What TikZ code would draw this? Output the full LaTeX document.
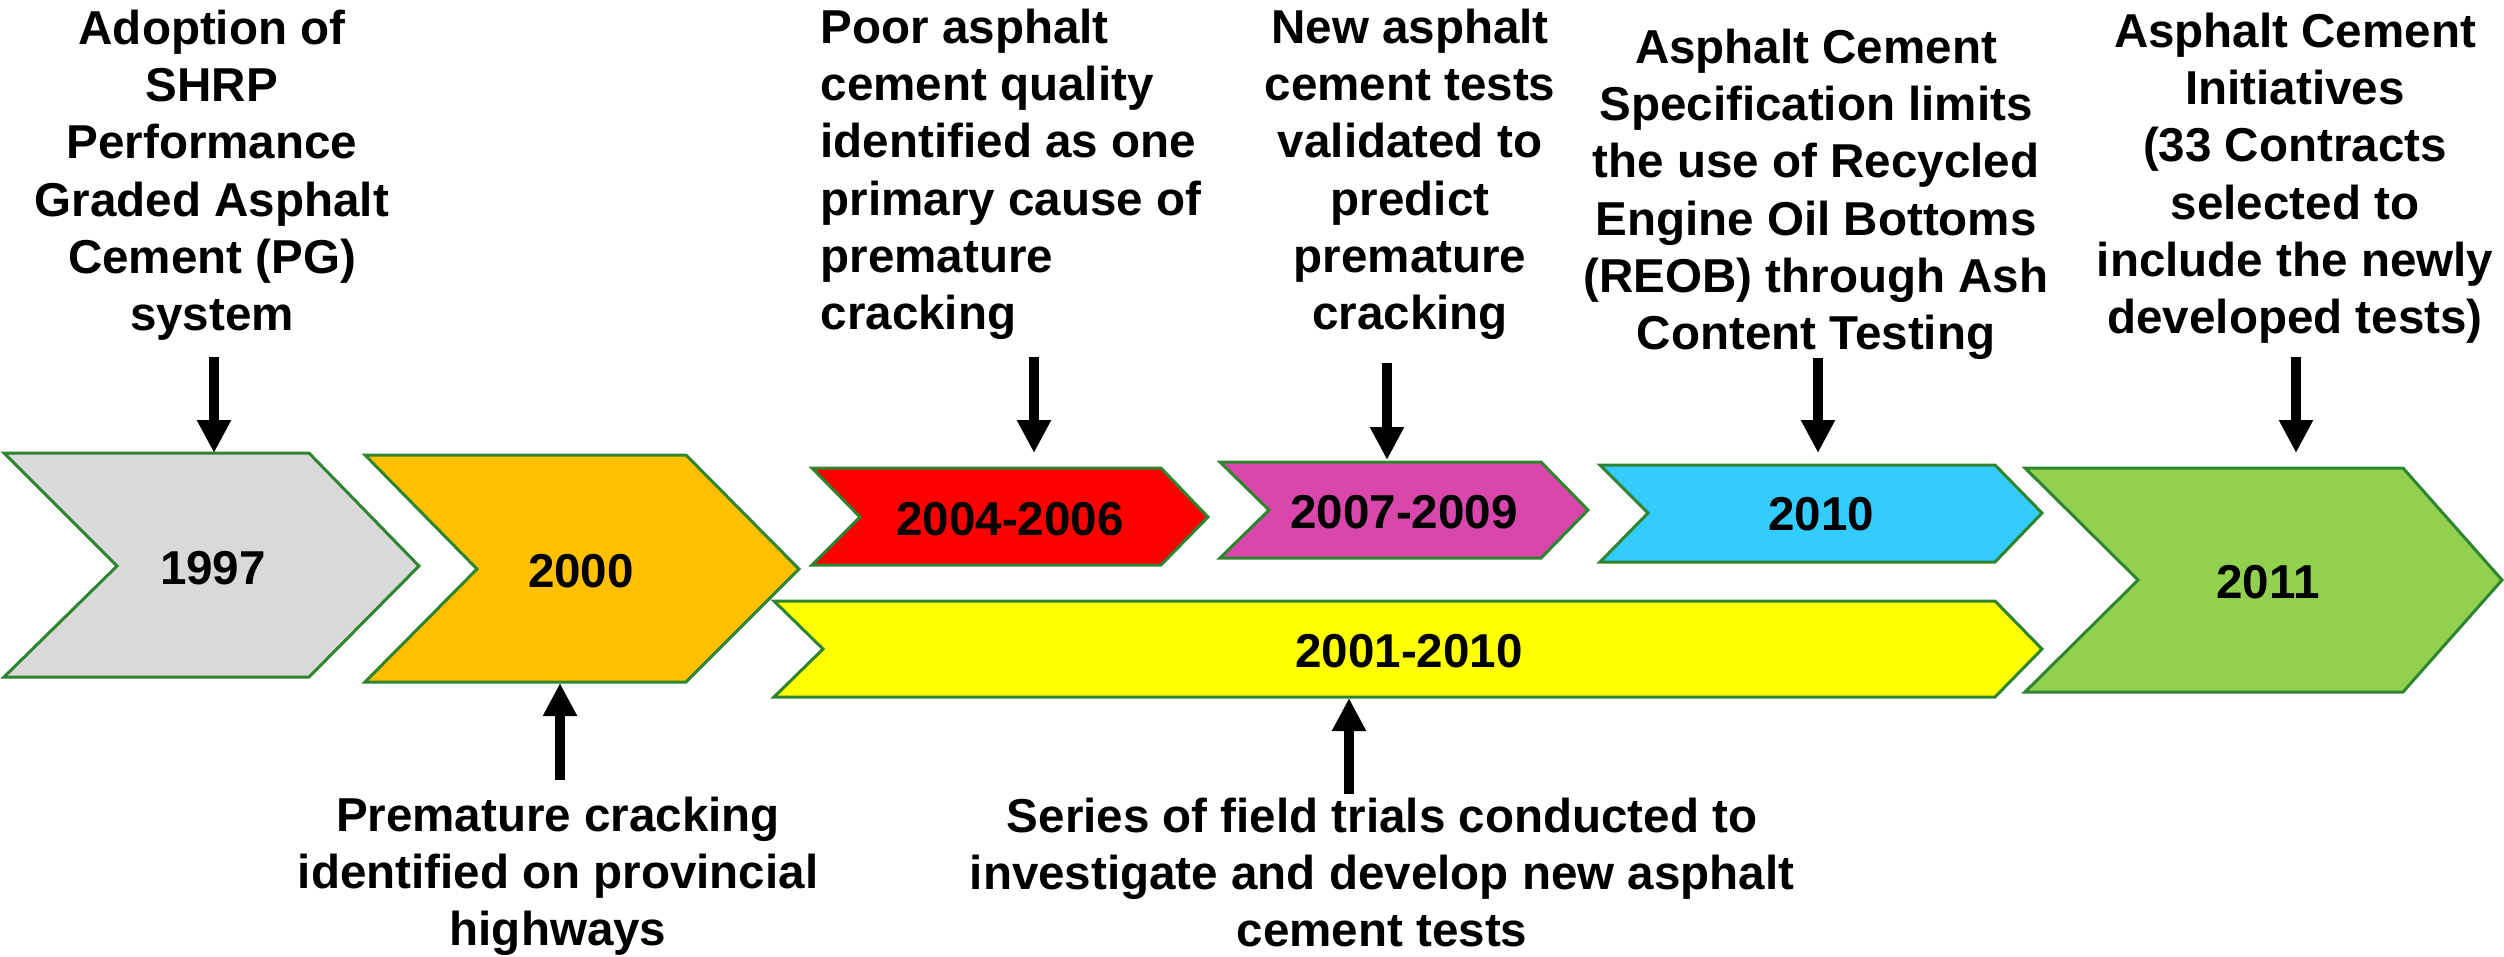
\documentclass[tikz,border=0pt]{standalone}
\usepackage{fontspec}
\setmainfont{Liberation Sans}
\usetikzlibrary{arrows.meta}
\definecolor{cgray}{HTML}{D9D9D9}
\definecolor{corange}{HTML}{FFC000}
\definecolor{cred}{HTML}{FF0000}
\definecolor{cmag}{HTML}{D946AC}
\definecolor{ccyan}{HTML}{33CCFF}
\definecolor{cyel}{HTML}{FFFF00}
\definecolor{cgreen}{HTML}{92D050}
\definecolor{cborder}{HTML}{2F852F}
\newcommand{\mytab}[2]{{\setlength{\tabcolsep}{0pt}\renewcommand{\arraystretch}{1}\begin{tabular}[t]{#1}#2\end{tabular}}}
\tikzset{
  chev/.style={draw=cborder, line width=0.03cm, line join=miter},
  yearlbl/.style={font=\fontsize{13.52}{16.31}\selectfont\bfseries, inner sep=0pt, anchor=center},
  desc/.style={font=\fontsize{13.52}{16.31}\selectfont\bfseries, inner sep=0pt, anchor=base},
  desclft/.style={desc, anchor=base west},
  arr/.style={line width=0.1cm, -{Triangle[width=0.32cm,length=0.33cm]}},
}
\begin{document}
\begin{tikzpicture}[x=0.01cm, y=-0.01cm]
\useasboundingbox (0,0) rectangle (2504,956);
% chevrons
\draw[chev, fill=cgray]   (4,453) -- (309,453) -- (419,566) -- (309,677) -- (4,677) -- (117,566) -- cycle;
\draw[chev, fill=corange] (365,455) -- (686,455) -- (799,569) -- (686,682) -- (365,682) -- (477,569) -- cycle;
\draw[chev, fill=cred]    (812,468) -- (1161,468) -- (1208,517) -- (1161,565) -- (812,565) -- (860,517) -- cycle;
\draw[chev, fill=cmag]    (1220,462) -- (1541,462) -- (1588,510) -- (1541,558) -- (1220,558) -- (1269,510) -- cycle;
\draw[chev, fill=ccyan]   (1600,465) -- (1995,465) -- (2042,513) -- (1995,562) -- (1600,562) -- (1648,513) -- cycle;
\draw[chev, fill=cyel]    (774,601) -- (1995,601) -- (2042,649) -- (1995,697) -- (774,697) -- (823,649) -- cycle;
\draw[chev, fill=cgreen]  (2025,468) -- (2403,468) -- (2502,580) -- (2403,692) -- (2025,692) -- (2138,580) -- cycle;
% year labels
\node[yearlbl] (y1997) at (213,568) {1997};
\node[yearlbl] (y2000) at (581,571) {2000};
\node[yearlbl] (y2004) at (1010,519) {2004-2006};
\node[yearlbl] (y2007) at (1404,512) {2007-2009};
\node[yearlbl] (y2001) at (1409,651) {2001-2010};
\node[yearlbl] (y2010) at (1821,514) {2010};
\node[yearlbl] (y2011) at (2268,582) {2011};
% descriptions
\node[desc] (t1) at (212,44) {\mytab{c}{Adoption of\\SHRP\\Performance\\Graded Asphalt\\Cement (PG)\\system}};
\node[desclft] (t2) at (820,43) {\mytab{l}{Poor asphalt\\cement quality\\identified as one\\primary cause of\\premature\\cracking}};
\node[desc] (t3) at (1410,43) {\mytab{c}{New asphalt\\cement tests\\validated to\\predict\\premature\\cracking}};
\node[desc] (t4) at (1816,63) {\mytab{c}{Asphalt Cement\\Specification limits\\the use of Recycled\\Engine Oil Bottoms\\(REOB) through Ash\\Content Testing}};
\node[desc] (t5) at (2295,47) {\mytab{c}{Asphalt Cement\\Initiatives\\(33 Contracts\\selected to\\include the newly\\developed tests)}};
\node[desc] (b1) at (558,831) {\mytab{c}{Premature cracking\\identified on provincial\\highways}};
\node[desc] (b2) at (1382,832) {\mytab{c}{Series of field trials conducted to\\investigate and develop new asphalt\\cement tests}};
% arrow end points
\coordinate (s1) at (214,357);  \coordinate (e1) at (214,453);
\coordinate (s2) at (1034,357); \coordinate (e2) at (1034,453);
\coordinate (s3) at (1387,363); \coordinate (e3) at (1387,460);
\coordinate (s4) at (1818,358); \coordinate (e4) at (1818,453);
\coordinate (s5) at (2296,357); \coordinate (e5) at (2296,453);
\coordinate (s6) at (560,780);  \coordinate (e6) at (560,683);
\coordinate (s7) at (1349,794); \coordinate (e7) at (1349,698);
\foreach \i in {1,...,7} {\draw[arr] (s\i) -- (e\i);}
\end{tikzpicture}
\end{document}
